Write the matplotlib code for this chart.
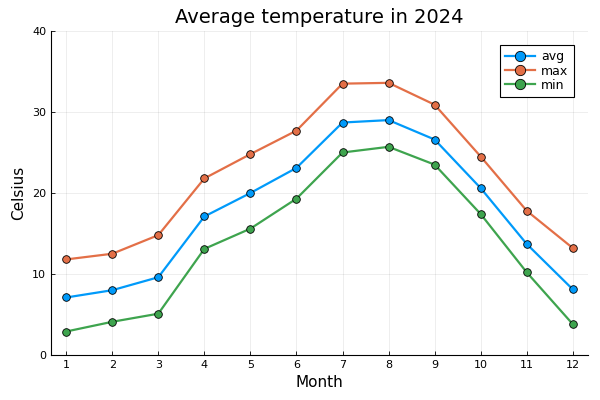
import matplotlib
matplotlib.use("Agg")
import matplotlib.pyplot as plt

# 月ごとの気温データ (2024)
months = [1, 2, 3, 4, 5, 6, 7, 8, 9, 10, 11, 12]
avg_temp = [7.1, 8.0, 9.6, 17.1, 20.0, 23.1, 28.7, 29.0, 26.6, 20.6, 13.7, 8.1]
max_temp = [11.8, 12.5, 14.8, 21.8, 24.8, 27.7, 33.5, 33.6, 30.9, 24.5, 17.8, 13.2]
min_temp = [2.9, 4.1, 5.1, 13.1, 15.6, 19.3, 25.0, 25.7, 23.5, 17.4, 10.2, 3.8]

series = [
    ("avg", avg_temp, "#009AFA"),
    ("max", max_temp, "#E36F47"),
    ("min", min_temp, "#3EA44E"),
]

fig = plt.figure(figsize=(6, 4), dpi=100)
ax = fig.add_axes([0.085, 0.1125, 0.895, 0.81])

for label, values, color in series:
    ax.plot(months, values, color=color, linewidth=1.6, marker="o",
            markersize=5.5, markerfacecolor=color, markeredgecolor="black",
            markeredgewidth=0.6, label=label)

ax.set_xlim(0.67, 12.33)
ax.set_ylim(0, 40)
ax.set_xticks(months)
ax.set_yticks([0, 10, 20, 30, 40])
ax.grid(True, color="black", alpha=0.08, linewidth=0.6)
ax.set_axisbelow(True)

for side in ("top", "right"):
    ax.spines[side].set_visible(False)
for side in ("left", "bottom"):
    ax.spines[side].set_linewidth(0.8)
ax.tick_params(direction="in", labelsize=8, length=3, width=0.6)

ax.set_title("Average temperature in 2024", fontsize=14)
ax.set_xlabel("Month", fontsize=11)
ax.set_ylabel("Celsius", fontsize=11)

leg = ax.legend(loc="upper right", fontsize=9, fancybox=False,
                edgecolor="black", framealpha=1, borderaxespad=1.1,
                handlelength=2.4, borderpad=0.45, labelspacing=0.1,
                markerscale=1.35, handletextpad=0.5)
leg.get_frame().set_linewidth(0.8)

fig.savefig("out.png", dpi=100)
